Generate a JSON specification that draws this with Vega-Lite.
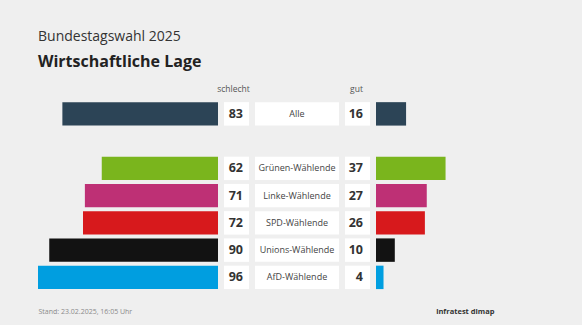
{
  "$schema": "https://vega.github.io/schema/vega-lite/v6.json",
  "background": "#efefef",
  "bounds": "flush",
  "padding": {"left": 38, "right": 18, "top": 30, "bottom": 10},
  "config": {"view": {"stroke": null}, "font": "Open Sans"},
  "title": {
    "text": "Bundestagswahl 2025",
    "subtitle": "Wirtschaftliche Lage",
    "anchor": "start",
    "font": "Open Sans",
    "fontSize": 14,
    "fontWeight": "normal",
    "color": "#333333",
    "subtitleFont": "Open Sans",
    "subtitleFontSize": 16,
    "subtitleFontWeight": "bold",
    "subtitleColor": "#222222",
    "subtitlePadding": 10,
    "offset": 3
  },
  "datasets": {
    "umfrage": [
      {"gruppe": "Alle", "schlecht": 83, "gut": 16},
      {"gruppe": "Grünen-Wählende", "schlecht": 62, "gut": 37},
      {"gruppe": "Linke-Wählende", "schlecht": 71, "gut": 27},
      {"gruppe": "SPD-Wählende", "schlecht": 72, "gut": 26},
      {"gruppe": "Unions-Wählende", "schlecht": 90, "gut": 10},
      {"gruppe": "AfD-Wählende", "schlecht": 96, "gut": 4}
    ],
    "kopf": [
      {"gruppe": "kopf", "links": "schlecht", "rechts": "gut"}
    ]
  },
  "spacing": 6,
  "resolve": {"scale": {"x": "independent", "y": "independent", "color": "independent"}},
  "hconcat": [
    {
      "width": 180,
      "height": 218,
      "data": {"name": "umfrage"},
      "mark": {"type": "bar"},
      "encoding": {
        "y": {"field": "gruppe", "type": "nominal", "axis": null,
          "scale": {"domain": ["kopf", "Alle", "luecke", "Grünen-Wählende", "Linke-Wählende", "SPD-Wählende", "Unions-Wählende", "AfD-Wählende"], "paddingInner": 0.14, "paddingOuter": 0.07}},
        "x": {"field": "schlecht", "type": "quantitative",
          "scale": {"domain": [0, 96], "reverse": true, "nice": false},
          "axis": {"title": "Stand: 23.02.2025, 16:05 Uhr", "labels": false, "ticks": false, "domain": false, "grid": false,
            "titleX": 0, "titleY": 20, "titleAlign": "left", "titleBaseline": "middle", "titleFont": "Open Sans", "titleFontSize": 7, "titleFontWeight": "normal", "titleColor": "#8a8a8a"}},
        "color": {"field": "gruppe", "type": "nominal", "legend": null,
          "scale": {"domain": ["Alle", "Grünen-Wählende", "Linke-Wählende", "SPD-Wählende", "Unions-Wählende", "AfD-Wählende"], "range": ["#2c4456", "#7ab51d", "#be3075", "#d7191c", "#121212", "#009ee0"]}}
      }
    },
    {
      "width": 25,
      "height": 218,
      "layer": [
        {
          "data": {"name": "umfrage"},
          "mark": {"type": "rect", "color": "#ffffff"},
          "encoding": {
            "y": {"field": "gruppe", "type": "nominal", "axis": null,
              "scale": {"domain": ["kopf", "Alle", "luecke", "Grünen-Wählende", "Linke-Wählende", "SPD-Wählende", "Unions-Wählende", "AfD-Wählende"], "paddingInner": 0.14, "paddingOuter": 0.07}},
            "x": {"value": 0},
            "x2": {"value": "width"}
          }
        },
        {
          "data": {"name": "umfrage"},
          "mark": {"type": "text", "align": "right", "baseline": "middle", "dx": -6, "font": "Open Sans", "fontSize": 12.5, "fontWeight": "bold", "color": "#333333"},
          "encoding": {
            "y": {"field": "gruppe", "type": "nominal", "axis": null},
            "x": {"value": "width"},
            "text": {"field": "schlecht", "type": "quantitative"}
          }
        },
        {
          "data": {"name": "kopf"},
          "mark": {"type": "text", "align": "center", "baseline": "middle", "dx": -3, "dy": 2, "font": "Open Sans", "fontSize": 8.5, "color": "#555555"},
          "encoding": {
            "y": {"field": "gruppe", "type": "nominal", "axis": null},
            "text": {"field": "links", "type": "nominal"}
          }
        }
      ]
    },
    {
      "width": 84,
      "height": 218,
      "data": {"name": "umfrage"},
      "layer": [
        {
          "mark": {"type": "rect", "color": "#ffffff"},
          "encoding": {
            "y": {"field": "gruppe", "type": "nominal", "axis": null,
              "scale": {"domain": ["kopf", "Alle", "luecke", "Grünen-Wählende", "Linke-Wählende", "SPD-Wählende", "Unions-Wählende", "AfD-Wählende"], "paddingInner": 0.14, "paddingOuter": 0.07}},
            "x": {"value": 0},
            "x2": {"value": "width"}
          }
        },
        {
          "mark": {"type": "text", "align": "center", "baseline": "middle", "font": "Open Sans", "fontSize": 9, "color": "#444444"},
          "encoding": {
            "y": {"field": "gruppe", "type": "nominal", "axis": null},
            "text": {"field": "gruppe", "type": "nominal"}
          }
        }
      ]
    },
    {
      "width": 25,
      "height": 218,
      "layer": [
        {
          "data": {"name": "umfrage"},
          "mark": {"type": "rect", "color": "#ffffff"},
          "encoding": {
            "y": {"field": "gruppe", "type": "nominal", "axis": null,
              "scale": {"domain": ["kopf", "Alle", "luecke", "Grünen-Wählende", "Linke-Wählende", "SPD-Wählende", "Unions-Wählende", "AfD-Wählende"], "paddingInner": 0.14, "paddingOuter": 0.07}},
            "x": {"value": 0},
            "x2": {"value": "width"}
          }
        },
        {
          "data": {"name": "umfrage"},
          "mark": {"type": "text", "align": "right", "baseline": "middle", "dx": -7, "font": "Open Sans", "fontSize": 12.5, "fontWeight": "bold", "color": "#333333"},
          "encoding": {
            "y": {"field": "gruppe", "type": "nominal", "axis": null},
            "x": {"value": "width"},
            "text": {"field": "gut", "type": "quantitative"}
          }
        },
        {
          "data": {"name": "kopf"},
          "mark": {"type": "text", "align": "center", "baseline": "middle", "dx": -1, "dy": 2, "font": "Open Sans", "fontSize": 8.5, "color": "#555555"},
          "encoding": {
            "y": {"field": "gruppe", "type": "nominal", "axis": null},
            "text": {"field": "rechts", "type": "nominal"}
          }
        }
      ]
    },
    {
      "width": 188,
      "height": 218,
      "data": {"name": "umfrage"},
      "mark": {"type": "bar"},
      "encoding": {
        "y": {"field": "gruppe", "type": "nominal", "axis": null,
          "scale": {"domain": ["kopf", "Alle", "luecke", "Grünen-Wählende", "Linke-Wählende", "SPD-Wählende", "Unions-Wählende", "AfD-Wählende"], "paddingInner": 0.14, "paddingOuter": 0.07}},
        "x": {"field": "gut", "type": "quantitative",
          "scale": {"domain": [0, 100], "nice": false},
          "axis": {"title": "infratest dimap", "labels": false, "ticks": false, "domain": false, "grid": false,
            "titleX": 118, "titleY": 20, "titleAlign": "right", "titleBaseline": "middle", "titleFont": "Open Sans", "titleFontSize": 7.5, "titleFontWeight": "bold", "titleColor": "#333333"}},
        "color": {"field": "gruppe", "type": "nominal", "legend": null,
          "scale": {"domain": ["Alle", "Grünen-Wählende", "Linke-Wählende", "SPD-Wählende", "Unions-Wählende", "AfD-Wählende"], "range": ["#2c4456", "#7ab51d", "#be3075", "#d7191c", "#121212", "#009ee0"]}}
      }
    }
  ]
}
